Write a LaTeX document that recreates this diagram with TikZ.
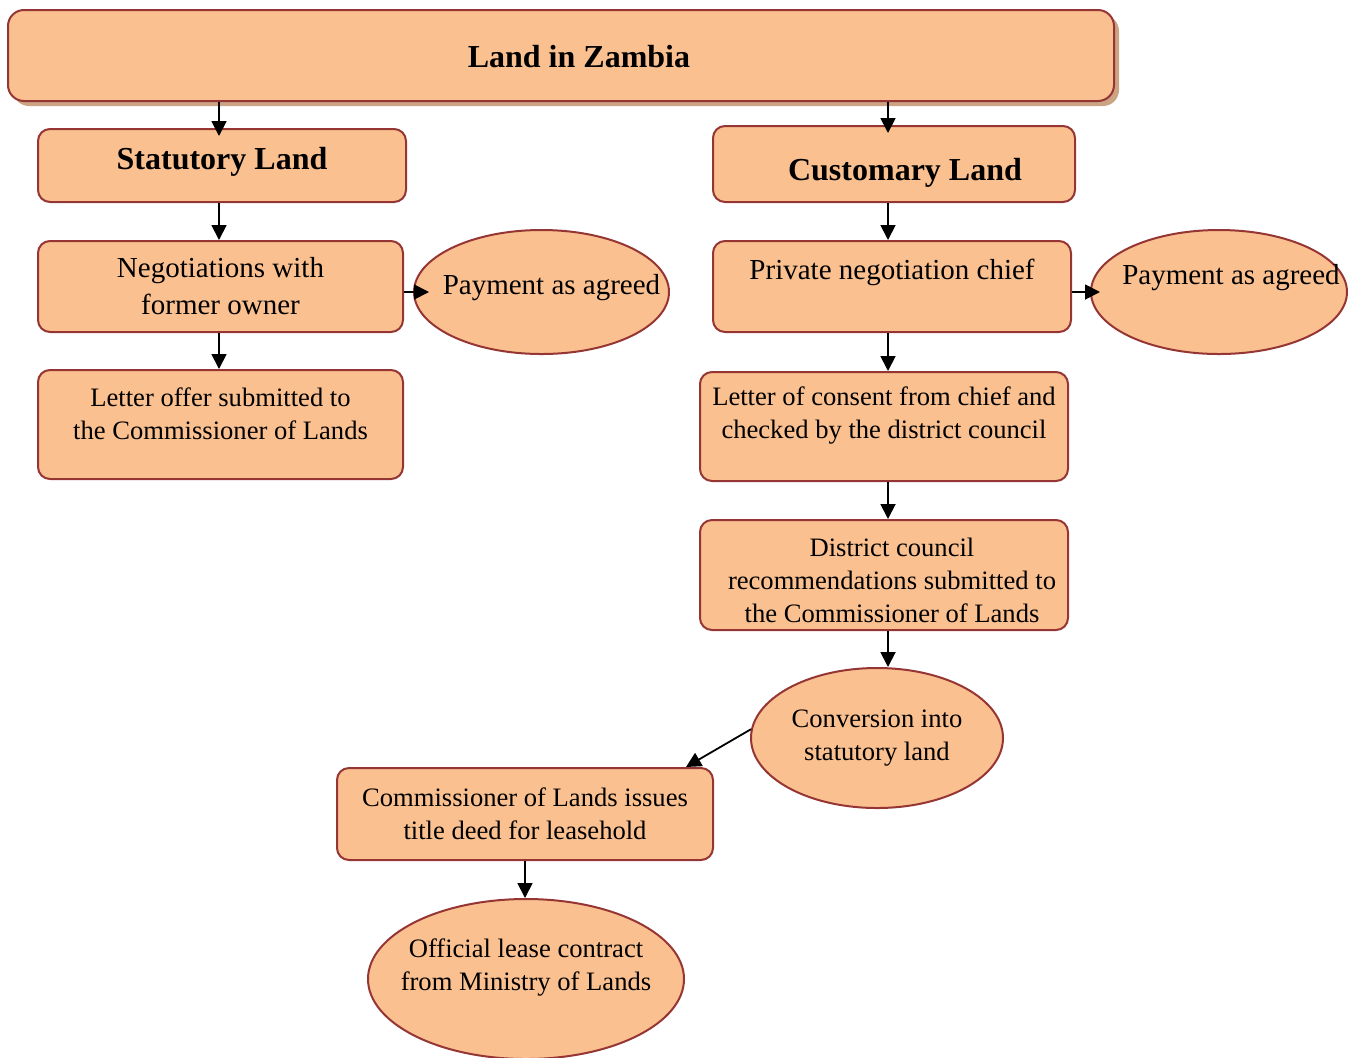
\documentclass[tikz,border=0pt]{standalone}
\usepackage{fontspec}
\setmainfont{Liberation Serif}
\usetikzlibrary{arrows.meta, shapes.geometric, shadows}
\definecolor{boxfill}{RGB}{250,192,144}
\definecolor{boxline}{RGB}{150,54,52}
\definecolor{boxshade}{RGB}{204,163,131}
% text of an oval, kept out of the size of the shape
\newcommand{\ovaltext}[2][0pt]{\makebox[0pt]{\smash{\raisebox{#1}{\begin{tabular}{@{}c@{}}#2\end{tabular}}}}}
\tikzset{
    box/.style={rectangle, rounded corners=6pt, draw=boxline, line width=1pt, fill=boxfill, align=center, inner sep=2pt, font=\fontsize{14.5}{16.5}\selectfont}, % rounded boxes
    headbox/.style={box, font=\fontsize{16}{19}\selectfont\bfseries}, % bold titles
    oval/.style={ellipse, draw=boxline, line width=1pt, fill=boxfill, inner sep=0pt, font=\fontsize{14.5}{16.5}\selectfont}, % ellipses
    small text/.style={font=\fontsize{13.3}{16.5}\selectfont},
    arr/.style={-{Triangle[length=7.5pt, width=7.5pt]}, line width=0.9pt} % connectors
}

\begin{document}
\begin{tikzpicture}[x=0.5pt, y=-0.5pt]
    \clip (0,0) rectangle (1360,1057);

    % top
    \node[headbox, rounded corners=8pt, minimum width=553pt, minimum height=45.5pt, text height=16pt, text depth=4pt,
          drop shadow={shadow xshift=2.5pt, shadow yshift=-2.5pt, fill=boxshade, opacity=1}] (land) at (561,55.5) {\hspace*{18pt}Land in Zambia};

    % statutory side
    \node[headbox, minimum width=184pt, minimum height=36.5pt, text height=8pt, text depth=4pt] (stat) at (222,165.5) {Statutory Land};
    \node[box, minimum width=182.5pt, minimum height=45.5pt] (nego) at (220.5,286.5) {Negotiations with\\[2pt] former owner};
    \node[oval, minimum width=127.5pt, minimum height=62pt] (payA) at (541.5,292) {\ovaltext[-1.5pt]{\hspace*{10pt}Payment as agreed}};
    \node[box, small text, minimum width=182.5pt, minimum height=54.5pt] (offer) at (220.5,424.5) {Letter offer submitted to\\ the Commissioner of Lands\\[-5.5pt]\mbox{}};

    % customary side
    \node[headbox, minimum width=181pt, minimum height=38pt, text height=20pt, text depth=4pt] (cust) at (894,164) {\hspace*{11pt}Customary Land};
    \node[box, minimum width=179pt, minimum height=45.5pt] (priv) at (892,286.5) {Private negotiation chief\\[1pt]\mbox{}};
    \node[oval, minimum width=128pt, minimum height=62pt] (payB) at (1219,292) {\ovaltext[3.5pt]{\hspace*{12pt}Payment as agreed}};
    \node[box, small text, minimum width=184pt, minimum height=54.5pt] (consent) at (884,426.5) {Letter of consent from chief and\\ checked by the district council\\[-2.5pt]\mbox{}};
    \node[box, small text, minimum width=184pt, minimum height=55pt] (council) at (884,575) {\rule{0pt}{14.5pt}\hspace*{8pt}District council\\ \hspace*{8pt}recommendations submitted to\\ \hspace*{8pt}the Commissioner of Lands};
    \node[oval, small text, minimum width=126pt, minimum height=70pt] (conv) at (877,738) {\ovaltext[-3.5pt]{Conversion into\\ statutory land}};

    % lease
    \node[box, small text, minimum width=188pt, minimum height=46pt] (issue) at (525,814) {Commissioner of Lands issues\\ title deed for leasehold};
    \node[oval, small text, minimum width=158pt, minimum height=80pt] (lease) at (526,979) {\ovaltext[2pt]{Official lease contract\\ from Ministry of Lands}};

    % connectors
    \draw[arr, shorten >=-4pt] (land.south -| stat.north) ++(-1.5pt,0) -- ([xshift=-1.5pt]stat.north);
    \draw[arr, shorten >=-4pt] ([xshift=-3pt]land.south -| cust.north) -- ([xshift=-3pt]cust.north);
    \draw[arr] ([xshift=-1.5pt]stat.south) -- ([xshift=-1.5pt]stat.south |- nego.north);
    \draw[arr, shorten >=-8pt] (nego.east |- payA.west) -- (payA.west);
    \draw[arr] ([xshift=-0.75pt]nego.south) -- ([xshift=-0.75pt]nego.south |- offer.north);
    \draw[arr] ([xshift=-3pt]cust.south) -- ([xshift=-3pt]cust.south |- priv.north);
    \draw[arr, shorten >=-5pt] (priv.east |- payB.west) -- (payB.west);
    \draw[arr] ([xshift=-2pt]priv.south) -- ([xshift=-2pt]priv.south |- consent.north);
    \draw[arr] ([xshift=2pt]consent.south) -- ([xshift=2pt]consent.south |- council.north);
    \draw[arr] ([xshift=2pt]council.south) -- ([xshift=2pt]council.south |- conv.north);
    \draw[arr] (conv.176) -- ([xshift=-14pt]issue.north east);
    \draw[arr] (issue.south) -- (issue.south |- lease.north);
\end{tikzpicture}
\end{document}
